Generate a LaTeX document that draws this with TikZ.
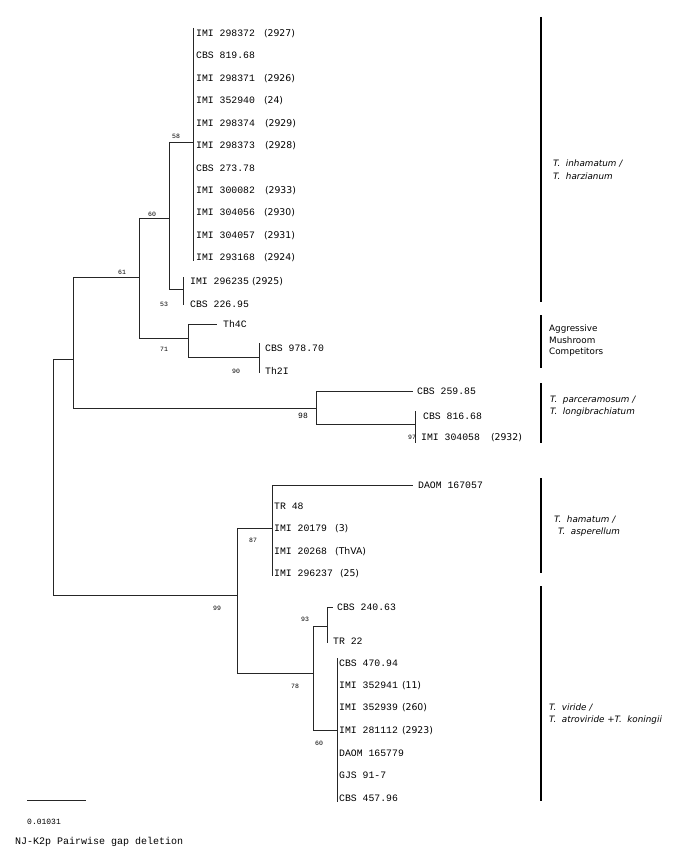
\documentclass[tikz,border=0pt]{standalone}
\usepackage{fontspec}
\setmainfont{DejaVu Sans}
\newfontfamily\monof{Liberation Mono}
\newfontfamily\sansf{DejaVu Sans}
\usetikzlibrary{calc}
\tikzset{
  br/.style={draw=black!85, line width=0.8pt},
  leaf/.style={anchor=west, inner sep=0pt, font=\monof\fontsize{9.8}{10}\selectfont, text height=6pt, text depth=0pt},
  boot/.style={inner sep=0pt, font=\monof\fontsize{6.5}{6.5}\selectfont},
  bigboot/.style={inner sep=0pt, font=\monof\fontsize{8}{8}\selectfont},
  grpbar/.style={draw=black, line width=1.8pt},
  grp/.style={anchor=west, inner sep=0pt, align=left, font=\sansf\itshape\fontsize{8.8}{12.5}\selectfont},
  grpup/.style={anchor=west, inner sep=0pt, align=left, font=\sansf\fontsize{8.8}{11.5}\selectfont},
  note/.style={anchor=west, inner sep=0pt, font=\monof\fontsize{10}{10}\selectfont},
}
\newcommand{\pp}[2]{\hspace{#1pt}{\sansf\fontsize{9.3}{9.5}\selectfont #2}}
\begin{document}
\begin{tikzpicture}[x=1pt,y=-1pt]
\useasboundingbox (0,0) rectangle (676,866);
% internal nodes (position of vertical line, attach height)
\coordinate (root) at (53,477);
\coordinate (nA)   at (73,359);
\coordinate (n61)  at (139,277);
\coordinate (n60)  at (169,218);
\coordinate (n58)  at (193,142);
\coordinate (n53)  at (183,289);
\coordinate (n71)  at (188,338);
\coordinate (n90)  at (259,357);
\coordinate (n98)  at (316,408);
\coordinate (n97)  at (415,424);
\coordinate (n99)  at (237,595);
\coordinate (n87)  at (272,528);
\coordinate (n78)  at (313,673);
\coordinate (n93)  at (327,626);
\coordinate (n60b) at (337,730);

% leaves: top cluster
\node[leaf] (t1)  at (196,34)  {IMI 298372\pp{9}{(2927)}};
\node[leaf] (t2)  at (196,56)  {CBS 819.68};
\node[leaf] (t3)  at (196,79)  {IMI 298371\pp{9}{(2926)}};
\node[leaf] (t4)  at (196,101) {IMI 352940\pp{9}{(24)}};
\node[leaf] (t5)  at (196,124) {IMI 298374\pp{10}{(2929)}};
\node[leaf] (t6)  at (196,146) {IMI 298373\pp{10}{(2928)}};
\node[leaf] (t7)  at (196,169) {CBS 273.78};
\node[leaf] (t8)  at (196,191) {IMI 300082\pp{10}{(2933)}};
\node[leaf] (t9)  at (196,213) {IMI 304056\pp{9}{(2930)}};
\node[leaf] (t10) at (196,236) {IMI 304057\pp{9}{(2931)}};
\node[leaf] (t11) at (196,258) {IMI 293168\pp{9}{(2924)}};
\node[leaf] (u1)  at (190,281) {IMI 296235\pp{3}{(2925)}};
\node[leaf] (u2)  at (190,304) {CBS 226.95};
\node[leaf] (th4c) at (223,324) {Th4C};
\node[leaf] (c978) at (265,348) {CBS 978.70};
\node[leaf] (th2i) at (265,371) {Th2I};
\node[leaf] (c259) at (417,391) {CBS 259.85};
\node[leaf] (c816) at (423,416) {CBS 816.68};
\node[leaf] (i304) at (421,437) {IMI 304058\pp{11}{(2932)}};
% bottom
\node[leaf] (d167) at (418,485) {DAOM 167057};
\node[leaf] (tr48) at (274,506) {TR 48};
\node[leaf] (i201) at (274,528) {IMI 20179\pp{8}{(3)}};
\node[leaf] (i202) at (274,551) {IMI 20268\pp{8}{(ThVA)}};
\node[leaf] (i296) at (274,573) {IMI 296237\pp{7}{(25)}};
\node[leaf] (c240) at (337,607) {CBS 240.63};
\node[leaf] (tr22) at (333,641) {TR 22};
\node[leaf] (v1) at (339,663) {CBS 470.94};
\node[leaf] (v2) at (339,685) {IMI 352941\pp{4}{(11)}};
\node[leaf] (v3) at (339,707) {IMI 352939\pp{4}{(260)}};
\node[leaf] (v4) at (339,730) {IMI 281112\pp{4}{(2923)}};
\node[leaf] (v5) at (339,753) {DAOM 165779};
\node[leaf] (v6) at (339,775) {GJS 91-7};
\node[leaf] (v7) at (339,798) {CBS 457.96};

% branches
\draw[br] (root |- nA) -- (root |- n99);
\draw[br] (root |- nA) -- (nA);
\draw[br] (root |- n99) -- (n99);
\draw[br] (nA |- n61) -- (nA |- n98);
\draw[br] (nA |- n61) -- (n61);
\draw[br] (nA |- n98) -- (n98);
\draw[br] (n61 |- n60) -- (n61 |- n71);
\draw[br] (n61 |- n60) -- (n60);
\draw[br] (n61 |- n71) -- (n71);
\draw[br] (n60 |- n58) -- (n60 |- n53);
\draw[br] (n60 |- n58) -- (n58);
\draw[br] (n60 |- n53) -- (n53);
\draw[br] ($(n58 |- t1)+(0,-6)$) -- ($(n58 |- t11)+(0,3)$);
\draw[br] ($(n53 |- u1)+(0,-4)$) -- ($(n53 |- u2)+(0,1)$);
\draw[br] (n71 |- th4c) -- (n71 |- n90);
\draw[br] (n71 |- th4c) -- ([xshift=-6pt]th4c.west);
\draw[br] (n71 |- n90) -- (n90);
\draw[br] ($(n90 |- c978)+(0,-5)$) -- ($(n90 |- th2i)+(0,2)$);
\draw[br] (n98 |- c259) -- (n98 |- n97);
\draw[br] (n98 |- c259) -- ([xshift=-4pt]c259.west);
\draw[br] (n98 |- n97) -- (n97);
\draw[br] ($(n97 |- c816)+(0,-5)$) -- ($(n97 |- i304)+(0,6)$);
\draw[br] (n99 |- n87) -- (n99 |- n78);
\draw[br] (n99 |- n87) -- (n87);
\draw[br] (n99 |- n78) -- (n78);
\draw[br] (n87 |- d167) -- ($(n87 |- i296)+(0,3)$);
\draw[br] (n87 |- d167) -- ([xshift=-5pt]d167.west);
\draw[br] (n78 |- n93) -- (n78 |- n60b);
\draw[br] (n78 |- n93) -- (n93);
\draw[br] (n78 |- n60b) -- (n60b);
\draw[br] (n93 |- c240) -- ($(n93 |- tr22)+(0,2)$);
\draw[br] (n93 |- c240) -- ([xshift=-4pt]c240.west);
\draw[br] ($(n60b |- v1)+(0,-5)$) -- ($(n60b |- v7)+(0,4)$);

% bootstrap values
\node[boot] (b58) at (176,136) {58};
\node[boot] (b60) at (152,214) {60};
\node[boot] (b61) at (122,272) {61};
\node[boot] (b53) at (164,304) {53};
\node[boot] (b71) at (164,349) {71};
\node[boot] (b90) at (236,371) {90};
\node[bigboot] (b98) at (303,416) {98};
\node[boot] (b97) at (412,437) {97};
\node[boot] (b87) at (253,540) {87};
\node[boot] (b99) at (217,608) {99};
\node[boot] (b93) at (305,619) {93};
\node[boot] (b78) at (295,686) {78};
\node[boot] (b60b) at (319,743) {60};

% group bars
\coordinate (g1a) at (541,17);  \coordinate (g1b) at (541,302);
\coordinate (g2a) at (541,315); \coordinate (g2b) at (541,368);
\coordinate (g3a) at (541,383); \coordinate (g3b) at (541,443);
\coordinate (g4a) at (541,478); \coordinate (g4b) at (541,573);
\coordinate (g5a) at (541,586); \coordinate (g5b) at (541,801);
\draw[grpbar] (g1a) -- (g1b);
\draw[grpbar] (g2a) -- (g2b);
\draw[grpbar] (g3a) -- (g3b);
\draw[grpbar] (g4a) -- (g4b);
\draw[grpbar] (g5a) -- (g5b);
\node[grp] (l1) at (553,169.5) {T.\ \ inhamatum /\\T.\ \ harzianum};
\node[grpup] (l2) at (549,341) {Aggressive\\Mushroom\\Competitors};
\node[grp] (l3) at (550,406) {T.\ \ parceramosum /\\T.\ \ longibrachiatum};
\node[grp] (l4) at (554,526) {T.\ \ hamatum /\\\hspace{4pt}T.\ \ asperellum};
\node[grp] (l5) at (549,714) {T.\ \ viride /\\T.\ \ atroviride +T.\ \ koningii};

% scale bar and note
\coordinate (sb1) at (27,800);
\coordinate (sb2) at (86,800);
\draw[br] (sb1) -- (sb2);
\node[anchor=west, inner sep=0pt, font=\monof\fontsize{8}{8}\selectfont] (sbl) at (27,822) {0.01031};
\node[note] (nt) at (15,842) {NJ-K2p Pairwise gap deletion};
\end{tikzpicture}
\end{document}
